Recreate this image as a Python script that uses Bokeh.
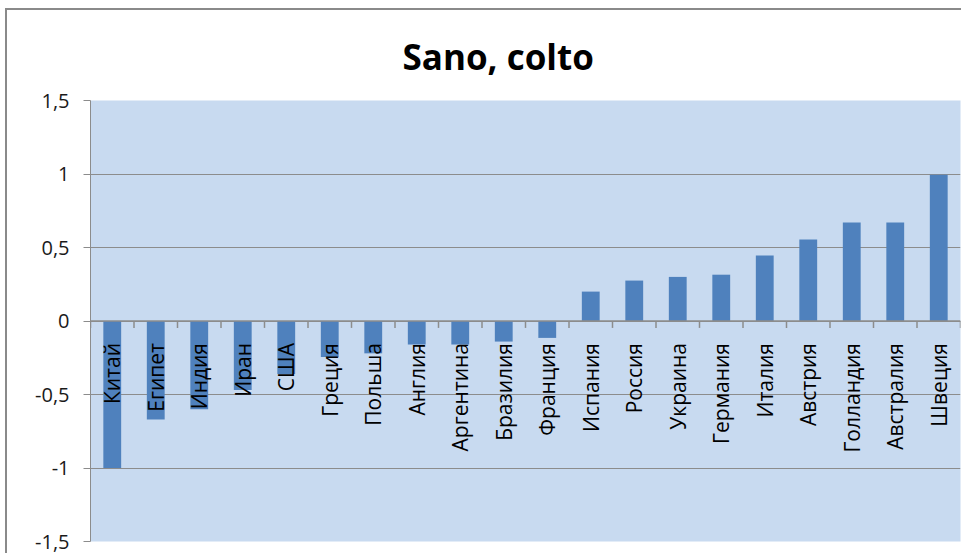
import math
from bokeh.plotting import figure
from bokeh.models import Range1d, FixedTicker, CustomJSTickFormatter, Span, ColumnDataSource
from bokeh.core.properties import value
from bokeh.embed import file_html
from bokeh.resources import INLINE

countries = ["Китай", "Египет", "Индия", "Иран", "США", "Греция", "Польша", "Англия",
             "Аргентина", "Бразилия", "Франция", "Испания", "Россия", "Украина",
             "Германия", "Италия", "Австрия", "Голландия", "Австралия", "Швеция"]
values = [-1.0, -0.67, -0.60, -0.47, -0.36, -0.245, -0.22, -0.16, -0.16, -0.14, -0.115,
          0.20, 0.275, 0.30, 0.315, 0.445, 0.555, 0.67, 0.67, 0.995]
y_ticks = [-1.5, -1.0, -0.5, 0.0, 0.5, 1.0, 1.5]
title_text = "Sano, colto"

n = len(countries)
xs = [i + 0.5 for i in range(n)]
bounds = list(range(n + 1))

p = figure(width=956, height=545, output_backend="svg", toolbar_location=None,
           x_range=Range1d(0, n), y_range=Range1d(-1.5, 1.5),
           x_axis_location=None, min_border_left=83, min_border_right=3,
           min_border_top=88, min_border_bottom=14)
p.styles = {"margin-left": "5px", "margin-top": "8px",
            "border-left": "2px solid #8a8a8a", "border-top": "2px solid #8a8a8a"}

p.title.text = title_text
p.title.align = "left"
p.title.offset = 312
p.title.standoff = 41
p.title.text_font = "Open Sans"
p.title.text_font_size = "35px"
p.title.text_font_style = "bold"
p.title.text_color = "#000000"

p.background_fill_color = "#C8DAF0"
p.border_fill_color = "white"
p.outline_line_color = None
p.xgrid.visible = False
p.ygrid.grid_line_color = "#8c8c8c"
p.ygrid.grid_line_width = 1

ax = p.yaxis[0]
ax.ticker = FixedTicker(ticks=y_ticks)
ax.formatter = CustomJSTickFormatter(code="return String(tick).replace('.', ',');")
ax.axis_line_color = "#8c8c8c"
ax.major_tick_line_color = "#8c8c8c"
ax.major_tick_in = 0
ax.major_tick_out = 7
ax.minor_tick_line_color = None
ax.major_label_text_font = "Open Sans"
ax.major_label_text_font_size = "20px"
ax.major_label_text_color = "#1a1a1a"
ax.major_label_standoff = 14

src = ColumnDataSource(dict(x=xs, top=values, name=countries))
p.vbar(x="x", top="top", bottom=0, width=0.41, source=src,
       fill_color="#4F81BD", line_color=None)

p.add_layout(Span(location=0, dimension="width", line_color="#8c8c8c", line_width=1.5))
p.segment(x0=bounds, x1=bounds, y0=[0] * len(bounds), y1=[-0.047] * len(bounds),
          line_color="#8c8c8c", line_width=1.5)

p.text(x="x", y=0, text="name", source=src, angle=math.pi / 2, y_offset=22,
       text_align="right", text_baseline="middle", text_font=value("Open Sans"),
       text_font_size="21px", text_color="#000000")

open("out.html", "w").write(file_html(p, INLINE))
